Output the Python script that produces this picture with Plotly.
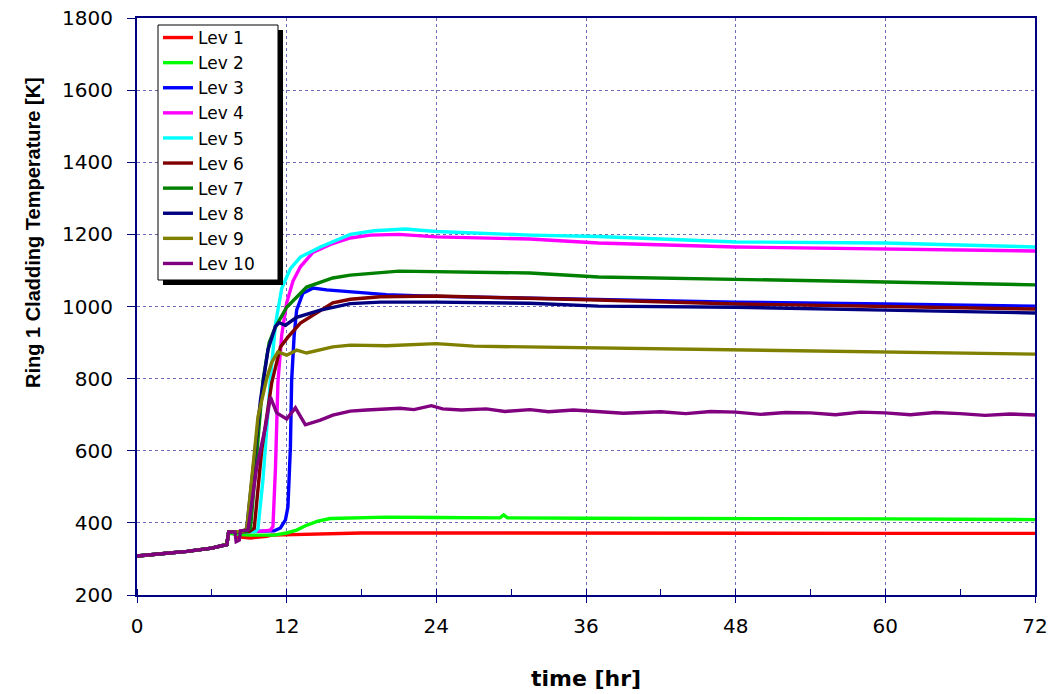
import plotly.graph_objects as go

# ---------------- data ----------------
names = ["Lev 1", "Lev 2", "Lev 3", "Lev 4", "Lev 5",
         "Lev 6", "Lev 7", "Lev 8", "Lev 9", "Lev 10"]
colors = ["#FF0000", "#00FF00", "#0000FF", "#FF00FF", "#00FFFF",
          "#800000", "#008000", "#000080", "#808000", "#800080"]

base_t = [0, 2, 4, 6, 7.2]
base_T = [308, 314, 321, 330, 340]

lev1_t = base_t + [7.35, 7.85, 8.0, 8.3, 9.1, 10.0, 10.4, 10.8, 12, 13.5, 15.5, 18, 24, 36, 48, 60, 72]
lev1_T = base_T + [372, 370, 361, 361, 358, 360, 363, 366, 367, 369, 371, 372, 372, 371, 371, 371, 371]

lev2_t = base_t + [7.35, 8.0, 9, 10, 11, 12, 12.8, 13.5, 14.5, 15.5, 17, 20, 24, 29.1, 29.4, 29.7, 36, 42, 48, 54, 60, 66, 72]
lev2_T = base_T + [372, 368, 366, 365, 366, 372, 380, 392, 405, 412, 414, 416, 415, 414, 422, 414, 413, 413, 412, 411, 411, 410, 409]

lev3_t = base_t + [7.35, 8, 9, 10, 11, 11.5, 11.9, 12.1, 12.3, 12.4, 12.6, 12.8, 13.3, 14.1, 15.2, 17.1, 20, 24, 30, 36, 48, 60, 72]
lev3_T = base_T + [375, 376, 376, 377, 378, 386, 408, 444, 610, 796, 920, 990, 1037, 1051, 1046, 1040, 1033, 1028, 1024, 1018, 1012, 1007, 1001]

lev4_t = base_t + [7.35, 9, 10, 10.7, 10.9, 11.1, 11.3, 11.6, 12.0, 12.5, 13.1, 14.1, 15.5, 17.1, 18.7, 21, 24, 31.5, 37, 48, 60, 72]
lev4_T = base_T + [375, 376, 377, 380, 390, 550, 790, 920, 1010, 1070, 1110, 1150, 1172, 1190, 1198, 1200, 1193, 1187, 1176, 1165, 1160, 1154]

lev5_t = base_t + [7.35, 9.5, 9.7, 10.1, 10.7, 11.1, 11.6, 12.3, 13.1, 14.7, 17.1, 19, 21.5, 24, 31.5, 37, 48, 60, 72]
lev5_T = base_T + [375, 376, 385, 520, 800, 950, 1050, 1105, 1137, 1165, 1200, 1210, 1215, 1208, 1198, 1194, 1179, 1176, 1165]

lev6_t = base_t + [7.35, 9.0, 9.4, 10.0, 10.4, 10.8, 11.5, 12.1, 13.1, 14.4, 15.7, 17.1, 19.5, 24, 31.5, 37, 48, 60, 72]
lev6_T = base_T + [375, 376, 385, 602, 694, 788, 888, 915, 954, 982, 1010, 1020, 1027, 1029, 1024, 1018, 1007, 999, 993]

lev7_t = base_t + [7.35, 8.8, 9.1, 9.6, 10.1, 10.6, 11.1, 12, 13.6, 15.7, 17.1, 21, 24, 31.5, 37, 48, 60, 72]
lev7_T = base_T + [375, 376, 385, 600, 795, 900, 943, 998, 1054, 1079, 1087, 1098, 1096, 1093, 1082, 1076, 1068, 1060]

lev8_t = base_t + [7.35, 8.5, 8.8, 9.3, 9.9, 10.5, 11.1, 11.4, 11.9, 12.8, 14.7, 17.1, 19.5, 24, 31.5, 37, 48, 60, 72]
lev8_T = base_T + [375, 376, 385, 550, 740, 880, 945, 955, 948, 970, 990, 1008, 1012, 1012, 1009, 1001, 998, 990, 982]

lev9_t = base_t + [7.35, 8.5, 8.8, 9.7, 10.4, 10.8, 11.3, 12.0, 12.8, 13.6, 15.7, 17.1, 20, 24, 27, 31.5, 37, 42, 48, 54, 60, 66, 72]
lev9_T = base_T + [375, 376, 385, 694, 800, 845, 874, 865, 879, 871, 888, 893, 891, 897, 890, 888, 885, 882, 879, 878, 874, 872, 868]

lev10_t = base_t + [7.35, 7.85, 7.95, 8.2, 8.3, 8.9, 9.6, 10.3, 10.7, 11.2, 12.0, 12.7, 13.5, 14.7, 15.7, 16.5, 17.1, 18.4, 19.5,
                    21.1, 22.2, 23.6, 24.5, 26, 28, 29.5, 31.5, 33, 35, 37, 39, 42, 44, 46, 48, 50, 52, 54, 56, 58, 60,
                    62, 64, 66, 68, 70, 72]
lev10_T = base_T + [375, 375, 348, 352, 378, 380, 555, 666, 749, 705, 688, 719, 672, 685, 699, 705, 710, 713, 716,
                    718, 714, 725, 716, 713, 716, 709, 714, 708, 713, 709, 704, 708, 703, 709, 707, 701, 706, 705, 700, 707, 705,
                    700, 706, 703, 698, 702, 699]

series_t = [lev1_t, lev2_t, lev3_t, lev4_t, lev5_t, lev6_t, lev7_t, lev8_t, lev9_t, lev10_t]
series_T = [lev1_T, lev2_T, lev3_T, lev4_T, lev5_T, lev6_T, lev7_T, lev8_T, lev9_T, lev10_T]

x_ticks = [0, 12, 24, 36, 48, 60, 72]
y_ticks = [200, 400, 600, 800, 1000, 1200, 1400, 1600, 1800]

# ---------------- figure ----------------
fig = go.Figure()
for n, c, tt, TT in zip(names, colors, series_t, series_T):
    fig.add_trace(go.Scatter(x=tt, y=TT, mode="lines", name=n,
                             line=dict(color=c, width=3.4)))

W, H = 1056, 694
L, R, T, B = 137, 21, 18, 99
pw, ph = W - L - R, H - T - B


def px(x):
    return (x - L) / pw


def py(y):
    return 1 - (y - T) / ph


navy = "#000080"
grid = "#6b6bb8"
tickfont = dict(family="DejaVu Sans", size=20, color="black")

fig.update_layout(
    template="none",
    width=W, height=H,
    margin=dict(l=L, r=R, t=T, b=B, autoexpand=False),
    paper_bgcolor="white", plot_bgcolor="white",
    showlegend=True,
    legend=dict(x=px(158), y=py(20), xanchor="left", yanchor="top",
                bgcolor="rgba(0,0,0,0)", borderwidth=0,
                font=dict(family="DejaVu Sans", size=17, color="black"),
                tracegroupgap=0, itemwidth=30),
    xaxis=dict(range=[0, 72], tickvals=x_ticks, showgrid=True, gridcolor=grid,
               griddash="dot", gridwidth=1, zeroline=False, automargin=False,
               showline=True, linecolor=navy, linewidth=2, mirror=True,
               ticks="outside", ticklen=6, tickcolor=navy, tickwidth=1,
               minor=dict(dtick=6, tick0=0, ticks="inside", ticklen=6, tickcolor=navy, showgrid=False),
               tickfont=tickfont, ticklabelstandoff=6,
               title=dict(text="<b>time [hr]</b>", font=dict(family="DejaVu Sans", size=22, color="black"),
                          standoff=34)),
    yaxis=dict(range=[200, 1800], tickvals=y_ticks, showgrid=True, gridcolor=grid,
               griddash="dot", gridwidth=1, zeroline=False, automargin=False,
               showline=True, linecolor=navy, linewidth=2, mirror=True,
               ticks="outside", ticklen=8, tickcolor=navy, tickwidth=1,
               tickfont=tickfont, ticklabelstandoff=10),
    annotations=[dict(x=px(33), y=py(233), xref="paper", yref="paper",
                      text="<b>Ring 1 Cladding Temperature [K]</b>", textangle=-90,
                      showarrow=False, xanchor="center", yanchor="middle",
                      font=dict(family="Liberation Sans", size=20, color="black"))],
    shapes=[
        # legend drop shadow
        dict(type="rect", xref="paper", yref="paper",
             x0=px(163), x1=px(283), y0=py(285), y1=py(30),
             fillcolor="black", line=dict(width=0), layer="above"),
        # legend box
        dict(type="rect", xref="paper", yref="paper",
             x0=px(158), x1=px(278), y0=py(280), y1=py(25),
             fillcolor="white", line=dict(color="black", width=1), layer="above"),
    ],
)

fig.write_html("out.html", config={"displayModeBar": False},
               post_script="document.body.style.margin='0px';")
